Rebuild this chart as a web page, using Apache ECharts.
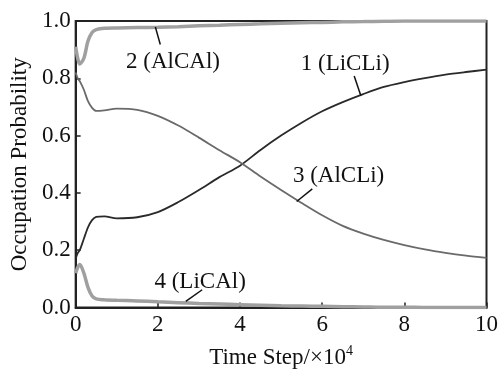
<!DOCTYPE html>
<html>
<head>
<meta charset="utf-8">
<script src="https://cdn.jsdelivr.net/npm/echarts@6/dist/echarts.min.js"></script>
<style>
  html, body { margin: 0; padding: 0; background: #fff; }
  #chart { width: 501px; height: 374px; }
</style>
</head>
<body>
<div id="chart"></div>
<script>
// time steps (x 10^4)
const timeSteps = [0, 0.05, 0.1, 0.2, 0.3, 0.4, 0.5, 0.7, 1, 1.5, 2, 2.5, 3, 3.5, 4, 4.5, 5, 5.5, 6, 6.5, 7, 7.5, 8, 8.5, 9, 9.5, 10];

const liCLi = [0.17, 0.19, 0.2, 0.24, 0.28, 0.305, 0.316, 0.318, 0.311, 0.315, 0.333, 0.368, 0.41, 0.455, 0.495, 0.55, 0.6, 0.645, 0.685, 0.717, 0.745, 0.77, 0.787, 0.801, 0.813, 0.822, 0.83];
const alCAl = [0.91, 0.87, 0.85, 0.87, 0.93, 0.96, 0.97, 0.975, 0.976, 0.977, 0.978, 0.98, 0.983, 0.985, 0.988, 0.99, 0.992, 0.994, 0.995, 0.997, 0.998, 0.999, 1, 1, 1, 1, 1];
const alCLi = [0.82, 0.8, 0.79, 0.76, 0.72, 0.697, 0.686, 0.688, 0.694, 0.69, 0.669, 0.635, 0.593, 0.549, 0.507, 0.457, 0.41, 0.365, 0.322, 0.285, 0.258, 0.236, 0.218, 0.203, 0.191, 0.181, 0.173];
const liCAl = [0.12, 0.14, 0.15, 0.12, 0.07, 0.04, 0.03, 0.027, 0.025, 0.023, 0.02, 0.017, 0.014, 0.012, 0.01, 0.008, 0.006, 0.005, 0.004, 0.003, 0.002, 0.001, 0.001, 0, 0, 0, 0];

// annotation label positions and leader lines, in data units
const labelNames = ["1 (LiCLi)", "2 (AlCAl)", "3 (AlCLi)", "4 (LiCAl)"];
const labelAt = [[6.56, 0.85], [2.37, 0.856], [6.4, 0.459], [3.03, 0.089]];
const leaders = [
  [[6.78, 0.808], [6.94, 0.74]],
  [[1.94, 0.979], [2.06, 0.918]],
  [[5.76, 0.414], [5.38, 0.37]],
  [[3.08, 0.062], [2.68, 0.021]],
];

const FONT = "'Liberation Serif', 'Times New Roman', serif";

const chart = echarts.init(document.getElementById("chart"));

const zip = (ys) => timeSteps.map((t, i) => [t, ys[i]]);

function lineSeries(idx, ys, color, width) {
  return {
    name: labelNames[idx],
    type: "line",
    data: zip(ys),
    smooth: 0.3,
    showSymbol: false,
    z: width > 2 ? 2 : 3,
    lineStyle: { color: color, width: width },
    markPoint: {
      symbol: "circle",
      symbolSize: 0,
      silent: true,
      label: {
        show: true,
        position: "inside",
        formatter: labelNames[idx],
        fontFamily: FONT,
        fontSize: 23,
        color: "#111",
      },
      data: [{ coord: labelAt[idx] }],
    },
    markLine: {
      symbol: ["none", "none"],
      silent: true,
      animation: false,
      label: { show: false },
      lineStyle: { color: "#111", width: 1.5, type: "solid" },
      data: [[{ coord: leaders[idx][0] }, { coord: leaders[idx][1] }]],
    },
  };
}

chart.setOption({
  animation: false,
  backgroundColor: "#fff",
  grid: {
    left: 70,
    right: 9,
    top: 21,
    bottom: 61,
    show: true,
    borderColor: "#222",
    borderWidth: 2,
  },
  xAxis: {
    type: "value",
    min: 0,
    max: 10,
    interval: 2,
    name: "Time Step/×10{sup|4}",
    nameLocation: "middle",
    nameGap: 37,
    nameTextStyle: {
      fontFamily: FONT,
      fontSize: 23,
      color: "#111",
      rich: { sup: { fontFamily: FONT, fontSize: 14, color: "#111", padding: [0, 0, 12, 0] } },
    },
    axisLine: { lineStyle: { color: "#222", width: 2 } },
    axisTick: { inside: true, length: 5, lineStyle: { color: "#222", width: 1.5 } },
    axisLabel: { fontFamily: FONT, fontSize: 23, color: "#111", margin: 6 },
    splitLine: { show: false },
  },
  yAxis: {
    type: "value",
    min: 0,
    max: 1,
    interval: 0.2,
    name: "Occupation Probability",
    nameLocation: "middle",
    nameGap: 41,
    nameTextStyle: { fontFamily: FONT, fontSize: 23, color: "#111" },
    axisLine: { show: true, lineStyle: { color: "#222", width: 2 } },
    axisTick: { show: true, inside: true, length: 5, lineStyle: { color: "#222", width: 1.5 } },
    axisLabel: {
      fontFamily: FONT,
      fontSize: 23,
      color: "#111",
      margin: 5,
      formatter: (v) => v.toFixed(1),
    },
    splitLine: { show: false },
  },
  series: [
    lineSeries(0, liCLi, "#2a2a2a", 1.8),
    lineSeries(1, alCAl, "#a0a0a0", 3.5),
    lineSeries(2, alCLi, "#6a6a6a", 1.8),
    lineSeries(3, liCAl, "#a0a0a0", 3.5),
  ],
});
</script>
</body>
</html>
